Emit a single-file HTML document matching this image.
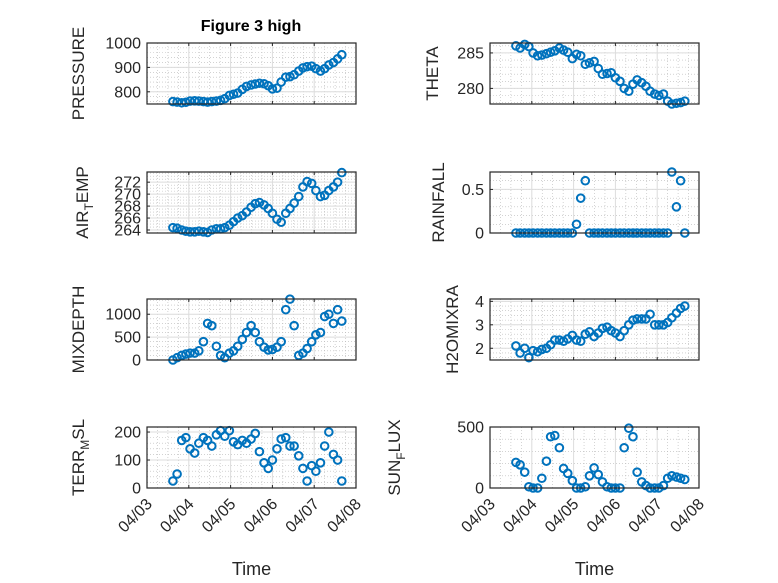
<!DOCTYPE html>
<html><head><meta charset="utf-8"><style>
html,body{margin:0;padding:0;background:#fff;}
svg{display:block;font-family:"Liberation Sans",sans-serif;}
</style></head>
<body>
<svg id="fig" width="778" height="583" viewBox="0 0 778 583" xmlns="http://www.w3.org/2000/svg">
<rect width="778" height="583" fill="#fff"/>
<text x="251" y="31" text-anchor="middle" font-size="16" font-weight="bold" fill="#000">Figure 3 high</text>
</svg>
<script>
const times=[0.62,0.72,0.83,0.93,1.03,1.14,1.24,1.35,1.45,1.55,1.66,1.76,1.86,1.97,2.07,2.17,2.28,2.38,2.49,2.59,2.69,2.80,2.90,3.00,3.11,3.21,3.32,3.42,3.52,3.63,3.73,3.83,3.94,4.04,4.15,4.25,4.35,4.46,4.56,4.66];
const xTickLabels=["04/03","04/04","04/05","04/06","04/07","04/08"];
const pressure=[760,758,755,757,762,763,762,760,758,760,762,765,772,785,790,795,810,822,828,832,835,833,825,812,815,840,860,862,870,885,898,903,905,895,885,895,910,920,935,952];
const airTemp=[264.4,264.3,264.0,263.8,263.7,263.7,263.8,263.7,263.6,264.0,264.2,264.2,264.4,264.8,265.4,266.0,266.4,267.0,267.8,268.4,268.6,268.2,267.6,266.8,265.8,265.3,266.8,267.6,268.5,269.6,271.2,272.1,271.8,270.6,269.6,269.8,270.6,271.2,272.0,273.6];
const mixDepth=[0,50,100,130,150,150,200,400,800,750,300,100,50,150,200,300,450,600,750,600,400,280,220,230,280,400,1100,1330,750,100,150,250,400,550,600,950,1000,800,1100,850];
const terrMsl=[25,50,170,180,140,125,160,180,170,150,190,205,185,205,165,155,170,160,175,195,130,90,70,100,140,175,180,150,150,115,70,25,80,60,90,150,200,120,100,25];
const theta=[286.0,285.7,286.2,285.9,285.0,284.6,284.7,284.9,285.1,285.3,285.7,285.4,285.1,284.2,284.8,284.6,283.4,283.6,283.8,282.8,282.0,282.1,282.2,281.5,281.0,280.0,279.6,280.6,281.2,280.8,280.3,279.6,279.2,279.0,279.2,278.2,277.8,277.9,278.0,278.2];
const rainfall=[0,0,0,0,0,0,0,0,0,0,0,0,0,0,0.1,0.4,0.6,0,0,0,0,0,0,0,0,0,0,0,0,0,0,0,0,0,0,0,0.7,0.3,0.6,0];
const h2o=[2.1,1.8,2.0,1.6,1.9,1.85,1.95,2.0,2.15,2.35,2.35,2.3,2.4,2.55,2.35,2.3,2.6,2.7,2.5,2.65,2.85,2.9,2.75,2.65,2.5,2.75,3.0,3.2,3.25,3.25,3.25,3.45,3.0,3.0,3.0,3.1,3.3,3.5,3.7,3.8];
const sunFlux=[210,190,130,10,0,0,80,220,420,430,330,160,120,60,0,0,10,100,165,110,50,10,0,0,0,330,490,420,130,50,20,0,0,0,20,80,100,90,80,70];
const pressureTicks=[800,900,1000];
const airTempTicks=[264,266,268,270,272];
const mixTicks=[0,500,1000];
const terrTicks=[0,100,200];
const thetaTicks=[280,285];
const rainTicks=[0,0.5];
const h2oTicks=[2,3,4];
const sunTicks=[0,500];

const NS="http://www.w3.org/2000/svg";
const svg=document.getElementById('fig');
function mk(tag,attrs,parent){const e=document.createElementNS(NS,tag);for(const k in attrs)e.setAttribute(k,attrs[k]);(parent||svg).appendChild(e);return e;}

const panels=[
 {id:'pressure',x0:147,y0:43,lab:['PRESSURE'],lx:84,ymin:750,ymax:1000,ticks:pressureTicks,minor:20,data:pressure,bottom:false},
 {id:'air-temp',x0:147,y0:172,lab:['AIR','T','EMP'],lx:88,ymin:263.5,ymax:273.7,ticks:airTempTicks,minor:0.5,data:airTemp,bottom:false},
 {id:'mixdepth',x0:147,y0:299,lab:['MIXDEPTH'],lx:84,ymin:0,ymax:1333,ticks:mixTicks,minor:100,data:mixDepth,bottom:false},
 {id:'terr-msl',x0:147,y0:427,lab:['TERR','M','SL'],lx:84,ymin:0,ymax:218,ticks:terrTicks,minor:20,data:terrMsl,bottom:true},
 {id:'theta',x0:490,y0:43,lab:['THETA'],lx:438,ymin:277.8,ymax:286.4,ticks:thetaTicks,minor:1,data:theta,bottom:false},
 {id:'rainfall',x0:490,y0:172,lab:['RAINFALL'],lx:444,ymin:0,ymax:0.7,ticks:rainTicks,minor:0.1,data:rainfall,bottom:false},
 {id:'h2omixra',x0:490,y0:299,lab:['H2OMIXRA'],lx:458,ymin:1.5,ymax:4.1,ticks:h2oTicks,minor:0.2,data:h2o,bottom:false},
 {id:'sun-flux',x0:490,y0:427,lab:['SUN','F','LUX'],lx:400,ymin:0,ymax:500,ticks:sunTicks,minor:100,data:sunFlux,bottom:true}
];
const W=209,H=61,XMIN=0,XMAX=5;
panels.forEach(p=>{
 const g=mk('g',{});
 
 
 const sx=t=>p.x0+(t-XMIN)/(XMAX-XMIN)*W;
 const sy=v=>p.y0+H-(v-p.ymin)/(p.ymax-p.ymin)*H;
 mk('rect',{x:p.x0,y:p.y0,width:W,height:H,fill:'#fff'},g);
 for(let t=0;t<=5;t+=0.25){ if(Math.abs(t-Math.round(t))<1e-6)continue;
   mk('line',{x1:sx(t),x2:sx(t),y1:p.y0,y2:p.y0+H,stroke:'#b8b8b8','stroke-width':0.6,'stroke-dasharray':'1 2'},g);}
 for(let v=Math.ceil(p.ymin/p.minor)*p.minor;v<=p.ymax;v+=p.minor){
   mk('line',{x1:p.x0,x2:p.x0+W,y1:sy(v),y2:sy(v),stroke:'#b8b8b8','stroke-width':0.6,'stroke-dasharray':'1 2'},g);}
 for(let t=1;t<5;t++) mk('line',{x1:sx(t),x2:sx(t),y1:p.y0,y2:p.y0+H,stroke:'#dcdcdc','stroke-width':1},g);
 p.ticks.forEach(v=>{
   mk('line',{x1:p.x0,x2:p.x0+W,y1:sy(v),y2:sy(v),stroke:'#dcdcdc','stroke-width':1},g);
   mk('line',{x1:p.x0,x2:p.x0+3,y1:sy(v),y2:sy(v),stroke:'#262626','stroke-width':1},g);
   const tl=mk('text',{x:p.x0-6,y:sy(v)+5.5,'text-anchor':'end','font-size':16,fill:'#262626'},g);
   
   
   tl.textContent=String(v);
 });
 for(let t=0;t<=5;t++){
   mk('line',{x1:sx(t),x2:sx(t),y1:p.y0+H,y2:p.y0+H-3,stroke:'#262626','stroke-width':1},g);
   mk('line',{x1:sx(t),x2:sx(t),y1:p.y0,y2:p.y0+3,stroke:'#262626','stroke-width':1},g);
 }
 times.forEach((t,i)=>{
   const c=mk('circle',{cx:sx(t),cy:sy(p.data[i]),r:3.8,fill:'none',stroke:'#0072BD','stroke-width':2},g);
   
   
 });
 mk('rect',{x:p.x0,y:p.y0,width:W,height:H,fill:'none',stroke:'#262626','stroke-width':1.2},g);
 const lx=p.lx, ly=p.y0+H/2;
 const yl=mk('text',{x:0,y:0,'text-anchor':'middle','font-size':17,fill:'#262626',transform:`translate(${lx},${ly}) rotate(-90)`},g);
 
 
 if(p.lab.length===1){yl.textContent=p.lab[0];}
 else{
   const a=mk('tspan',{},yl);a.textContent=p.lab[0];
   const b=mk('tspan',{dy:5,'font-size':12},yl);b.textContent=p.lab[1];
   const c=mk('tspan',{dy:-5},yl);c.textContent=p.lab[2];
 }
 if(p.bottom){
   xTickLabels.forEach((s,k)=>{
     const x=sx(k),y=p.y0+H+12;
     const tl=mk('text',{x:0,y:0,'text-anchor':'end','font-size':16,fill:'#262626',transform:`translate(${x+6},${y+5}) rotate(-45)`},g);
     
     
     tl.textContent=s;
   });
   const xt=mk('text',{x:p.x0+W/2,y:575,'text-anchor':'middle','font-size':18,fill:'#262626'},g);
   
   
   xt.textContent='Time';
 }
});
</script>
</body></html>
